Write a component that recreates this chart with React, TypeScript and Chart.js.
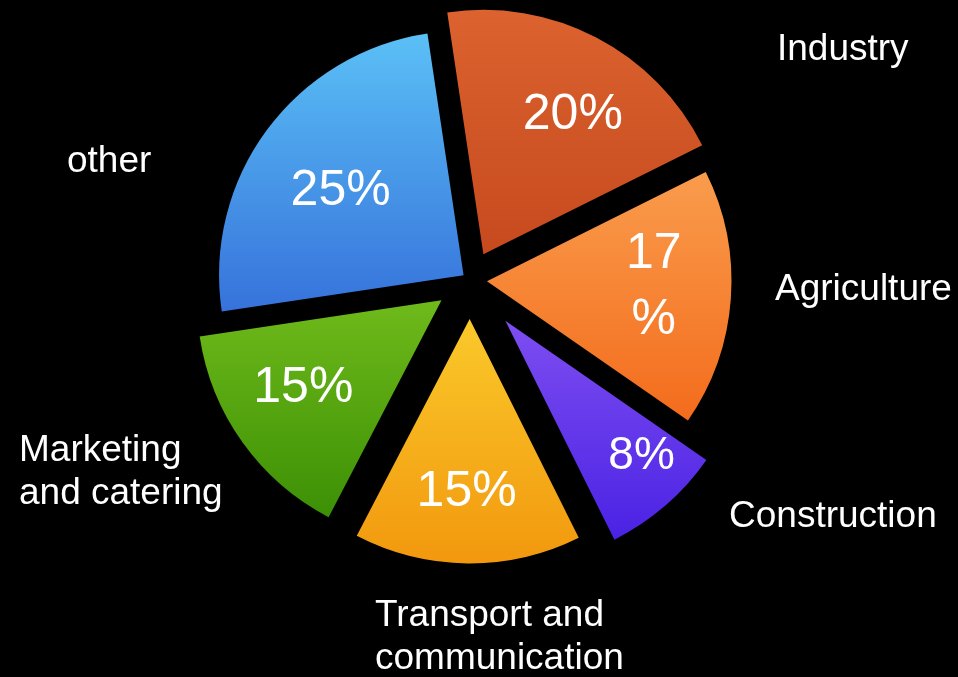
import React, { useEffect, useRef } from 'react';
import { Chart, registerables } from 'chart.js';

Chart.register(...registerables);

// ---- data ----
const categories = [
  'Industry',
  'Agriculture',
  'Construction',
  'Transport and communication',
  'Marketing and catering',
  'other',
];
const values = [20, 17, 8, 15, 15, 25];
const percentLabels = ['20%', '17\n%', '8%', '15%', '15%', '25%'];
const categoryLines = [
  ['Industry'],
  ['Agriculture'],
  ['Construction'],
  ['Transport and', 'communication'],
  ['Marketing', 'and catering'],
  ['other'],
];

// ---- styles ----
const topColors = ['#dc622f', '#f99c4c', '#7e4ef1', '#fac92a', '#6fba1b', '#5bc0f6'];
const bottomColors = ['#c64a1e', '#f36c1c', '#4a22e4', '#f2980e', '#3c9005', '#3672db'];
const explodePx = [29, 17, 54, 39, 35, 8];
// [radius fraction, angle tweak in degrees] for in-slice percent text
const pctPlacement = [
  [0.677, 5.2],
  [0.683, -1.9],
  [0.785, -4.3],
  [0.708, 0.5],
  [0.67, 3],
  [0.608, -2.3],
];
const pctFontSize = [50, 50, 46, 50, 50, 50];
const pctLineHeight = 66;
// name label: left x, first baseline y
const namePos = [
  [777, 60],
  [775, 300],
  [729, 527],
  [375, 626],
  [19, 461],
  [67, 172],
];
const nameLineHeight = 43;
const FONT = '"Liberation Sans", Arial, Helvetica, sans-serif';

function sliceYRange(y: number, r: number, s: number, e: number) {
  const ys = [y, y + Math.sin(s) * r, y + Math.sin(e) * r];
  const TAU = Math.PI * 2;
  for (let k = -2; k <= 2; k++) {
    const top = -Math.PI / 2 + k * TAU;
    const bot = Math.PI / 2 + k * TAU;
    if (top >= s && top <= e) ys.push(y - r);
    if (bot >= s && bot <= e) ys.push(y + r);
  }
  return [Math.min(...ys), Math.max(...ys)];
}

const explodePlugin = {
  id: 'explodeDraw',
  beforeDatasetDraw(chart: any, args: any) {
    const meta = chart.getDatasetMeta(args.index);
    const ctx = chart.ctx as CanvasRenderingContext2D;
    meta.data.forEach((el: any, i: number) => {
      const p = el.getProps(['x', 'y', 'startAngle', 'endAngle', 'outerRadius'], true);
      const mid = (p.startAngle + p.endAngle) / 2;
      const dx = Math.cos(mid) * explodePx[i];
      const dy = Math.sin(mid) * explodePx[i];
      const [y0, y1] = sliceYRange(p.y, p.outerRadius, p.startAngle, p.endAngle);
      const grad = ctx.createLinearGradient(0, y0, 0, y1);
      grad.addColorStop(0, topColors[i]);
      grad.addColorStop(1, bottomColors[i]);
      const orig = el.options;
      el.options = { ...orig, backgroundColor: grad, borderWidth: 0 };
      ctx.save();
      ctx.translate(dx, dy);
      el.draw(ctx, chart.chartArea);
      ctx.restore();
      el.options = orig;
    });
    return false;
  },
  afterDraw(chart: any) {
    const meta = chart.getDatasetMeta(0);
    const ctx = chart.ctx as CanvasRenderingContext2D;
    ctx.save();
    ctx.fillStyle = '#ffffff';
    meta.data.forEach((el: any, i: number) => {
      const p = el.getProps(['x', 'y', 'startAngle', 'endAngle', 'outerRadius'], true);
      const mid = (p.startAngle + p.endAngle) / 2;
      const vx = p.x + Math.cos(mid) * explodePx[i];
      const vy = p.y + Math.sin(mid) * explodePx[i];
      const [k, dA] = pctPlacement[i];
      const a = mid + (dA * Math.PI) / 180;
      const cx = vx + Math.cos(a) * k * p.outerRadius;
      const cy = vy + Math.sin(a) * k * p.outerRadius;
      const lines = percentLabels[i].split('\n');
      ctx.font = `${pctFontSize[i]}px ${FONT}`;
      ctx.textAlign = 'center';
      ctx.textBaseline = 'middle';
      const startY = cy - ((lines.length - 1) * pctLineHeight) / 2;
      lines.forEach((ln, j) => ctx.fillText(ln, cx, startY + j * pctLineHeight));
    });
    ctx.font = `37px ${FONT}`;
    ctx.textAlign = 'left';
    ctx.textBaseline = 'alphabetic';
    categoryLines.forEach((lines, i) => {
      const [lx, ly] = namePos[i];
      lines.forEach((ln, j) => ctx.fillText(ln, lx, ly + j * nameLineHeight));
    });
    ctx.restore();
  },
};

export default function App() {
  const ref = useRef<HTMLCanvasElement | null>(null);
  useEffect(() => {
    if (!ref.current) return;
    const chart = new Chart(ref.current, {
      type: 'pie',
      data: {
        labels: categories,
        datasets: [
          {
            data: values,
            backgroundColor: topColors,
            borderWidth: 0,
          },
        ],
      },
      options: {
        responsive: false,
        devicePixelRatio: 1,
        animation: false,
        rotation: -8.5,
        layout: { padding: { top: 35.5, bottom: 152.5, left: 225.5, right: 243.5 } },
        plugins: {
          legend: { display: false },
          tooltip: { enabled: false },
        },
        events: [],
      },
      plugins: [explodePlugin],
    });
    return () => chart.destroy();
  }, []);
  return (
    <div style={{ position: 'fixed', left: 0, top: 0, width: 958, height: 677, background: '#000' }}>
      <canvas ref={ref} width={958} height={677} style={{ display: 'block' }} />
    </div>
  );
}
